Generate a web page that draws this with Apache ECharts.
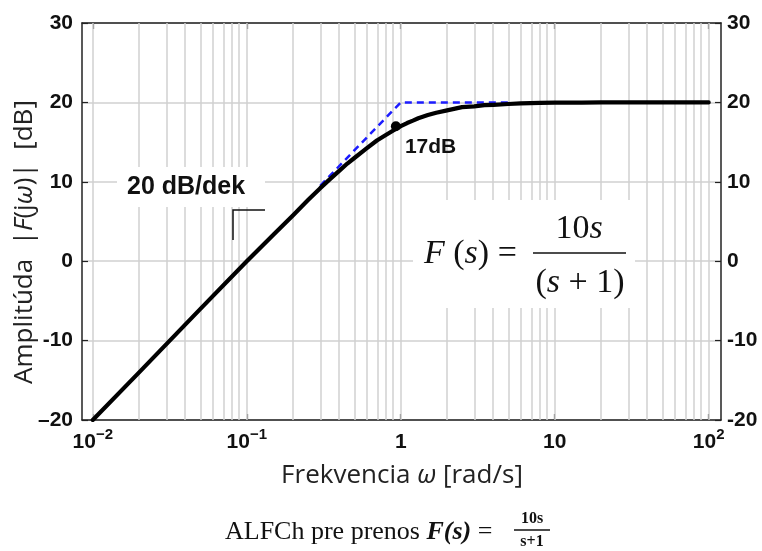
<!DOCTYPE html>
<html>
<head>
<meta charset="utf-8">
<title>ALFCh</title>
<script src="https://cdn.jsdelivr.net/npm/echarts@6.0.0/dist/echarts.min.js"></script>
<style>
html, body { margin: 0; padding: 0; background: #fff; }
#main { width: 762px; height: 551px; }
</style>
</head>
<body>
<div id="main"></div>
<script>
// amplitude curve: omega [rad/s] -> |F(jw)| [dB]
var omega = [0.01, 0.02, 0.05, 0.1, 0.15, 0.2, 0.25, 0.3, 0.35, 0.4, 0.45, 0.5, 0.6, 0.7, 0.8, 0.9, 1, 1.1, 1.2, 1.3, 1.5, 1.7, 2, 2.5, 3, 3.5, 4, 5, 6, 8, 10, 15, 20, 50, 100];
var ampDb = [-20, -14, -6, 0, 3.4, 5.8, 7.7, 9.2, 10.4, 11.4, 12.3, 13, 14.2, 15.2, 15.9, 16.5, 17, 17.4, 17.7, 18, 18.4, 18.7, 19, 19.4, 19.5, 19.65, 19.7, 19.8, 19.88, 19.93, 19.96, 19.98, 20, 20, 20];
// asymptote (blue dashed)
var asymOmega = [0.3, 1, 5];
var asymDb = [9.5, 20, 20];
// marked point
var markOmega = [0.93];
var markDb = [17];
// axes
var xExp = [-2, -1, 0, 1, 2];
var xTickLabels = ['{b|10}{s|\u22122}', '{b|10}{s|\u22121}', '{n|1}', '{n|10}', '{b|10}{s|2}'];
var yTicks = [-20, -10, 0, 10, 20, 30];
var yLeftLabels = ['\u201320', '-10', '0', '10', '20', '30'];
var yRightLabels = ['-20', '-10', '0', '10', '20', '30'];
var decades = [0.01, 0.1, 1, 10];

var myChart = echarts.init(document.getElementById('main'));

function lg(v) { return Math.log10(v); }

var curve = [];
for (var i = 0; i < omega.length; i++) curve.push([lg(omega[i]), ampDb[i]]);
var asym = [];
for (var i = 0; i < asymOmega.length; i++) asym.push([lg(asymOmega[i]), asymDb[i]]);
var marks = [];
for (var i = 0; i < markOmega.length; i++) marks.push([lg(markOmega[i]), markDb[i]]);

// vertical log grid
var vLines = [];
decades.forEach(function (d) {
    for (var k = 1; k <= 9; k++) vLines.push({ xAxis: lg(k * d) });
});
vLines.push({ xAxis: 2 });

var gridColor = '#d1d1d1';
var frame = { onZero: false, lineStyle: { color: '#222', width: 1.5 } };
var tickFont = 'Liberation Sans';
var serif = 'Liberation Serif';
var sans = 'Open Sans';

function yFmt(arr) {
    return function (v) { return arr[yTicks.indexOf(Math.round(v))]; };
}

var option = {
    animation: false,
    grid: { left: 82, right: 41, top: 23, bottom: 131 },
    xAxis: [{
        type: 'value', min: -2.07, max: 2.08, position: 'bottom',
        axisLine: frame,
        axisTick: { inside: true, length: 6, customValues: xExp, lineStyle: { color: '#222', width: 1.2 } },
        axisLabel: {
            customValues: xExp, margin: 7,
            formatter: function (v) { return xTickLabels[xExp.indexOf(Math.round(v))]; },
            rich: {
                b: { fontSize: 21, fontWeight: 'bold', fontFamily: tickFont, color: '#111', padding: [5, 0, 0, 0] },
                n: { fontSize: 21, fontWeight: 'bold', fontFamily: tickFont, color: '#111', padding: [5, 0, 0, 0] },
                s: { fontSize: 15, fontWeight: 'bold', fontFamily: tickFont, color: '#111', verticalAlign: 'top' }
            }
        },
        splitLine: { show: false }
    }, {
        type: 'value', min: -2.07, max: 2.08, position: 'top',
        axisLine: frame,
        axisTick: { inside: true, length: 6, customValues: xExp, lineStyle: { color: '#222', width: 1.2 } },
        axisLabel: { show: false },
        splitLine: { show: false }
    }],
    yAxis: [{
        type: 'value', min: -20, max: 30, interval: 10, position: 'left',
        axisLine: { show: true, onZero: false, lineStyle: { color: '#222', width: 1.5 } },
        axisTick: { show: true, inside: true, length: 6, lineStyle: { color: '#222', width: 1.2 } },
        axisLabel: { formatter: yFmt(yLeftLabels), margin: 9, fontSize: 21, fontWeight: 'bold', fontFamily: tickFont, color: '#111' },
        splitLine: { lineStyle: { color: gridColor, width: 1.5 } }
    }, {
        type: 'value', min: -20, max: 30, interval: 10, position: 'right',
        axisLine: { show: true, onZero: false, lineStyle: { color: '#222', width: 1.5 } },
        axisTick: { show: true, inside: true, length: 6, lineStyle: { color: '#222', width: 1.2 } },
        axisLabel: { formatter: yFmt(yRightLabels), margin: 6, fontSize: 21, fontWeight: 'bold', fontFamily: tickFont, color: '#111' },
        splitLine: { show: false }
    }],
    series: [{
        name: 'grid',
        type: 'line',
        data: [],
        z: 1,
        markLine: {
            silent: true, z: 1, symbol: ['none', 'none'], label: { show: false },
            lineStyle: { color: gridColor, width: 1.5, type: 'solid' },
            data: vLines
        }
    }, {
        name: 'asymptota',
        type: 'line',
        data: asym,
        showSymbol: false,
        z: 3,
        lineStyle: { color: '#1c1cff', width: 2.5, type: [7, 5] }
    }, {
        name: 'ALFCh',
        type: 'line',
        data: curve,
        showSymbol: false,
        z: 4,
        lineStyle: { color: '#000', width: 4.2, cap: 'round', join: 'round' }
    }, {
        name: 'bod',
        type: 'scatter',
        data: marks,
        symbolSize: 10,
        z: 5,
        itemStyle: { color: '#000', opacity: 1 },
        label: {
            show: true, formatter: '17dB', position: 'right', distance: 4, offset: [0, 21],
            fontSize: 21, fontWeight: 'bold', fontFamily: tickFont, color: '#111'
        }
    }],
    graphic: [
        // white boxes behind the annotations
        { type: 'rect', z: 10, shape: { x: 413, y: 200, width: 222, height: 108 }, style: { fill: '#fff' } },
        { type: 'rect', z: 10, shape: { x: 117, y: 167, width: 148, height: 40 }, style: { fill: '#fff' } },
        {
            type: 'text', z: 11, x: 127, y: 187,
            style: { text: '20 dB/dek', fontSize: 25, fontWeight: 'bold', fontFamily: tickFont, fill: '#111',
                align: 'left', verticalAlign: 'middle', textAlign: 'left', textVerticalAlign: 'middle' }
        },
        { type: 'polyline', z: 11, shape: { points: [[233, 240], [233, 210], [265, 210]] }, style: { stroke: '#111', lineWidth: 1.5, fill: null } },
        // formula in the plot
        {
            type: 'text', z: 11, x: 424, y: 254,
            style: {
                text: '{i|F} {n|(}{i|s}{n|) =}',
                rich: {
                    i: { fontSize: 34, fontStyle: 'italic', fontFamily: serif, fill: '#111' },
                    n: { fontSize: 34, fontFamily: serif, fill: '#111' }
                },
                fontSize: 34, fontFamily: serif, fill: '#111',
                align: 'left', verticalAlign: 'middle', textAlign: 'left', textVerticalAlign: 'middle'
            }
        },
        {
            type: 'text', z: 11, x: 579, y: 229,
            style: {
                text: '{n|10}{i|s}',
                rich: {
                    i: { fontSize: 34, fontStyle: 'italic', fontFamily: serif, fill: '#111' },
                    n: { fontSize: 34, fontFamily: serif, fill: '#111' }
                },
                fontSize: 34, fontFamily: serif, fill: '#111',
                align: 'center', verticalAlign: 'middle', textAlign: 'center', textVerticalAlign: 'middle'
            }
        },
        { type: 'line', z: 11, shape: { x1: 533, y1: 253, x2: 626, y2: 253 }, style: { stroke: '#111', lineWidth: 1.5 } },
        {
            type: 'text', z: 11, x: 580, y: 283,
            style: {
                text: '{n|(}{i|s}{n| + 1)}',
                rich: {
                    i: { fontSize: 34, fontStyle: 'italic', fontFamily: serif, fill: '#111' },
                    n: { fontSize: 34, fontFamily: serif, fill: '#111' }
                },
                fontSize: 34, fontFamily: serif, fill: '#111',
                align: 'center', verticalAlign: 'middle', textAlign: 'center', textVerticalAlign: 'middle'
            }
        },
        // axis titles
        {
            type: 'text', x: 402, y: 476,
            style: {
                text: 'Frekvencia {i|\u03c9} [rad/s]',
                rich: { i: { fontSize: 26, fontStyle: 'italic', fontFamily: sans, fill: '#222' } },
                fontSize: 26, fontFamily: sans, fill: '#222',
                align: 'center', verticalAlign: 'middle', textAlign: 'center', textVerticalAlign: 'middle'
            }
        },
        {
            type: 'text', x: 25, y: 242, rotation: Math.PI / 2,
            style: {
                text: 'Amplit\u00fada  |{i|F}(j{i|\u03c9})|  [dB]',
                rich: { i: { fontSize: 26, fontStyle: 'italic', fontFamily: sans, fill: '#222' } },
                fontSize: 26, fontFamily: sans, fill: '#222',
                align: 'center', verticalAlign: 'middle', textAlign: 'center', textVerticalAlign: 'middle'
            }
        },
        // caption
        {
            type: 'text', x: 225, y: 532,
            style: {
                text: 'ALFCh pre prenos {b|F(s)} =',
                rich: { b: { fontSize: 26, fontStyle: 'italic', fontWeight: 'bold', fontFamily: serif, fill: '#111' } },
                fontSize: 26, fontFamily: serif, fill: '#111',
                align: 'left', verticalAlign: 'middle', textAlign: 'left', textVerticalAlign: 'middle'
            }
        },
        {
            type: 'text', x: 532, y: 519,
            style: { text: '10s', fontSize: 16, fontWeight: 'bold', fontFamily: serif, fill: '#111',
                align: 'center', verticalAlign: 'middle', textAlign: 'center', textVerticalAlign: 'middle' }
        },
        { type: 'line', shape: { x1: 514, y1: 530, x2: 550, y2: 530 }, style: { stroke: '#111', lineWidth: 1.3 } },
        {
            type: 'text', x: 532, y: 542,
            style: { text: 's+1', fontSize: 16, fontWeight: 'bold', fontFamily: serif, fill: '#111',
                align: 'center', verticalAlign: 'middle', textAlign: 'center', textVerticalAlign: 'middle' }
        }
    ]
};

myChart.setOption(option);
</script>
</body>
</html>
